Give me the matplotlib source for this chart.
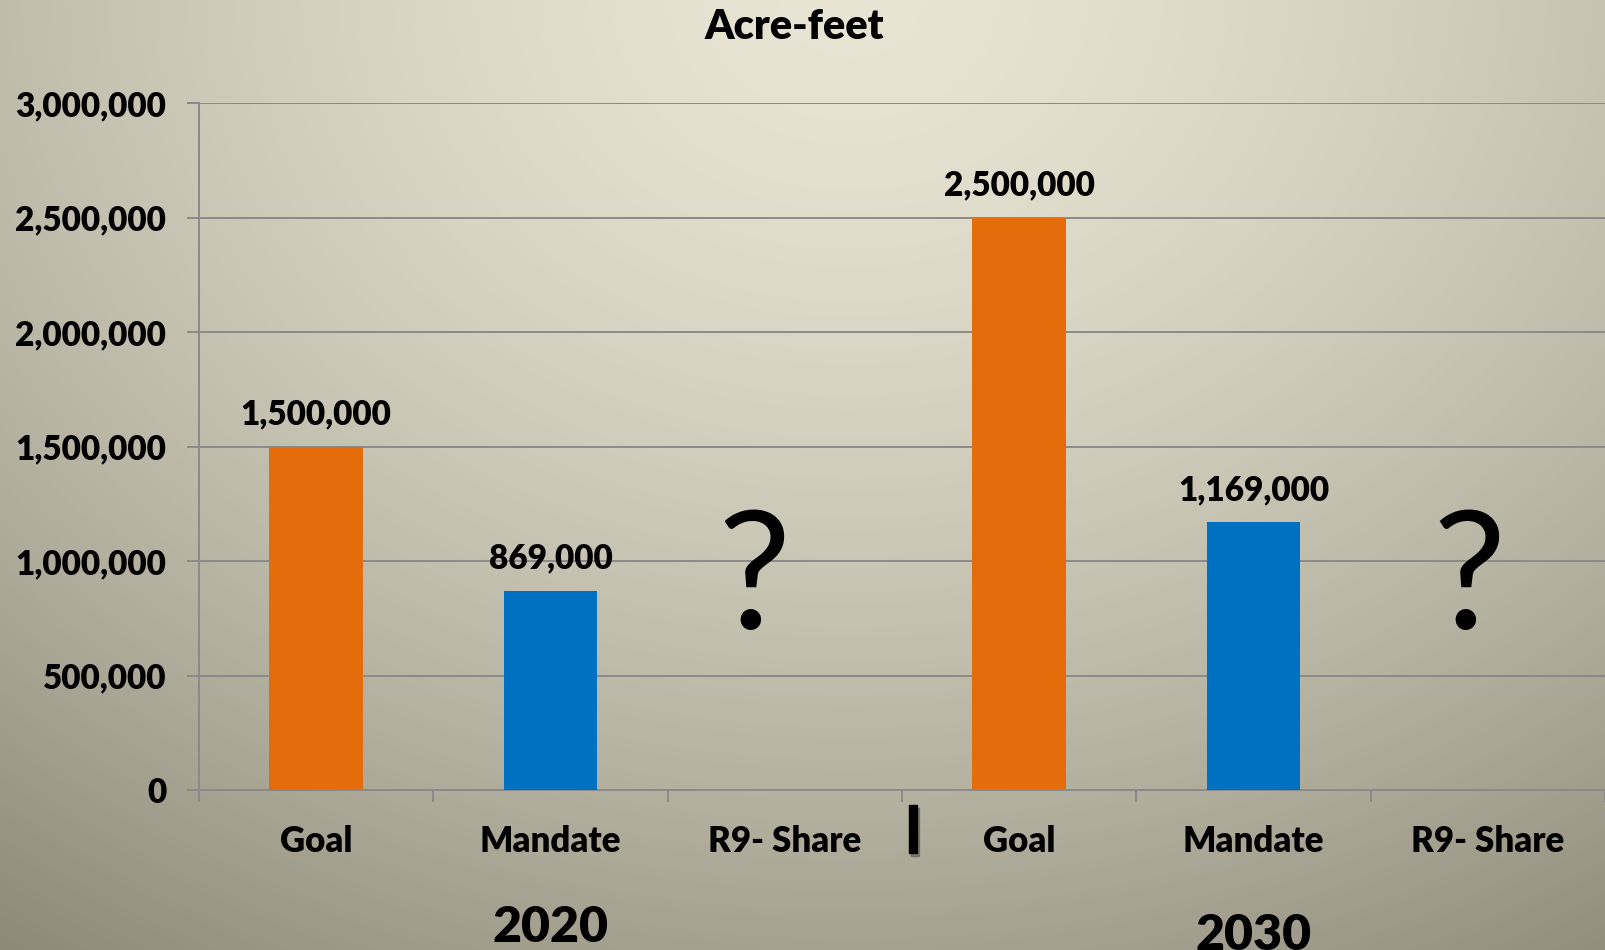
import numpy as np
import matplotlib
matplotlib.use("Agg")
import matplotlib.pyplot as plt
from matplotlib.patches import Rectangle
from matplotlib.ticker import FuncFormatter, FixedLocator
import matplotlib.transforms as mtransforms

plt.rcParams['font.family'] = ['Lato', 'DejaVu Sans']

# data
categories = ["Goal", "Mandate", "R9- Share", "Goal", "Mandate", "R9- Share"]
years = ["2020", "2030"]
goal = [1500000, 2500000]
mandate = [869000, 1169000]
r9_share = ["?", "?"]  # not known

goal_color = "#E46C0A"
mandate_color = "#0070C0"
grid_color = "#8a8a8a"
wt = "heavy"

W, H = 1605, 950
fig = plt.figure(figsize=(W / 100, H / 100), dpi=100)

# background gradient, light near top middle, darker to the edges
bg = fig.add_axes([0, 0, 1, 1], zorder=-5)
yy, xx = np.mgrid[0:H, 0:W]
r = np.sqrt(((xx - 850) / 1128.0) ** 2 + (yy / 900.0) ** 2)
L = 232 - 62 * r ** 1.5
rgb = np.clip(np.dstack([L, L - 3, L - 19]) / 255.0, 0, 1)
bg.imshow(rgb, extent=[0, 1, 0, 1], aspect="auto", origin="upper")
bg.axis("off")

ax = fig.add_axes([199 / W, 1 - 790 / H, 1 - 199 / W, 687 / H])
ax.patch.set_alpha(0)

x = np.arange(len(categories))
goal_x = x[0::3]
mandate_x = x[1::3]
share_x = x[2::3]

ax.bar(goal_x, goal, width=0.4, color=goal_color, zorder=3)
ax.bar(mandate_x, mandate, width=0.4, color=mandate_color, zorder=3)

for xs, vals in [(goal_x, goal), (mandate_x, mandate)]:
    for xi, v in zip(xs, vals):
        ax.annotate(f"{v:,}", (xi, v), xytext=(0, 16), textcoords="offset points",
                    ha="center", va="baseline", fontsize=24, fontweight=wt)

# the question marks for unknown R9 share
q_offsets = [-0.13, -0.08]
for xi, txt, off in zip(share_x, r9_share, q_offsets):
    ax.text(xi + off, 0.235, txt, transform=mtransforms.blended_transform_factory(ax.transData, ax.transAxes),
            ha="center", va="baseline", fontsize=118, fontweight="normal")

ax.set_xlim(-0.5, len(categories) - 0.5)
ax.set_ylim(0, 3000000)
ax.set_yticks(np.arange(0, 3000001, 500000))
ax.yaxis.set_major_formatter(FuncFormatter(lambda v, p: f"{v:,.0f}"))
ax.yaxis.grid(True, color=grid_color, lw=1.4)
ax.set_axisbelow(True)

for s in ["top", "right"]:
    ax.spines[s].set_visible(False)
for s in ["left", "bottom"]:
    ax.spines[s].set_color(grid_color)
    ax.spines[s].set_linewidth(1.4)

ax.set_xticks(x)
ax.set_xticklabels(categories, fontsize=25, fontweight=wt)
ax.xaxis.set_minor_locator(FixedLocator(np.arange(-0.5, len(categories), 1.0)))
ax.tick_params(axis="x", which="major", length=0, pad=25)
ax.tick_params(axis="x", which="minor", length=8.6, width=1.4, color=grid_color)
ax.tick_params(axis="y", length=8.6, width=1.4, color=grid_color, pad=15, labelsize=24)
for lab in ax.get_yticklabels():
    lab.set_fontweight(wt)

# year labels under each group
trans = mtransforms.blended_transform_factory(ax.transData, fig.transFigure)
ax.text(mandate_x[0], 1 - 942 / H, years[0], transform=trans, ha="center", va="baseline",
        fontsize=36, fontweight=wt)
ax.text(mandate_x[1], 1 - 950 / H, years[1], transform=trans, ha="center", va="baseline",
        fontsize=36, fontweight=wt, clip_on=False)

# separator mark between the groups
fig.patches.append(Rectangle((911 / W, 1 - 856 / H), 8 / W, 48 / H, transform=fig.transFigure,
                             color="black", alpha=0.25, zorder=2))
fig.patches.append(Rectangle((909 / W, 1 - 853 / H), 8 / W, 48 / H, transform=fig.transFigure,
                             color="black", zorder=3))

fig.text(794 / W, 1 - 39 / H, "Acre-feet", ha="center", va="baseline", fontsize=30, fontweight=wt)

fig.savefig("out.png", dpi=100)
